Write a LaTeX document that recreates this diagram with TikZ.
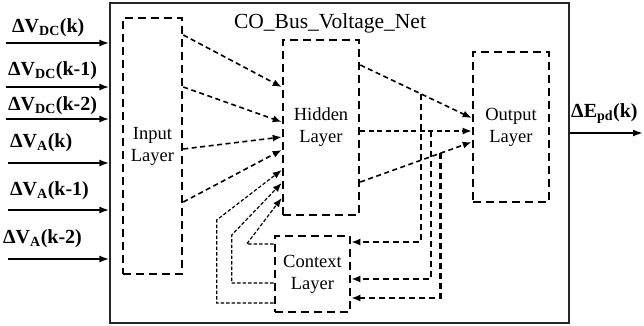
\documentclass[tikz,border=0pt]{standalone}
\usepackage{fontspec}
\setmainfont{Liberation Serif}
\usetikzlibrary{arrows.meta}
\tikzset{
  cnnet/.style={draw=black!85, line width=1.1pt},
  cnlayer/.style={draw, line width=2.6pt, dash pattern=on 8pt off 5pt, align=center, inner sep=0pt, font=\fontsize{18.5}{22}\selectfont},
  cnlbl/.style={anchor=base west, inner sep=0pt, font=\fontsize{20}{24}\selectfont\bfseries},
  cnin/.style={-{Latex[length=10pt,width=7pt]}, line width=2pt},
  cnarr/.style={-{Latex[length=9pt,width=7pt]}, line width=1.6pt, dash pattern=on 5pt off 3.5pt},
  cnfeed/.style={-{Latex[length=9pt,width=7pt]}, line width=1.2pt, dash pattern=on 3.5pt off 2pt},
  cnback/.style={-{Latex[length=9pt,width=7pt]}, line width=2.4pt, dash pattern=on 6pt off 4pt}
}
\begin{document}
\begin{tikzpicture}[x=1pt, y=-1pt]
  \useasboundingbox (0,0) rectangle (644,325);
  % network frame
  \node[cnnet, minimum width=459, minimum height=320] (net) at (339.5,163) {};
  \node[anchor=base, inner sep=0pt, font=\fontsize{21.5}{24}\selectfont] (title) at (330,28) {CO\_Bus\_Voltage\_Net};
  % layers
  \node[cnlayer, minimum width=59, minimum height=256] (input) at (152.5,146) {Input\\Layer};
  \node[cnlayer, minimum width=76, minimum height=175] (hidden) at (321,127.5) {Hidden\\Layer};
  \node[cnlayer, minimum width=76, minimum height=150] (output) at (511,127) {Output\\Layer};
  \node[cnlayer, minimum width=75, minimum height=76] (context) at (312.5,274) {Context\\Layer};
  % inputs
  \coordinate (s1) at (6,43);
  \coordinate (s2) at (6,87);
  \coordinate (s3) at (6,119);
  \coordinate (s4) at (8,163);
  \coordinate (s5) at (8,210);
  \coordinate (s6) at (8,259);
  \node[cnlbl] (lbl1) at (12,32) {ΔV\textsubscript{DC}(k)};
  \node[cnlbl] (lbl2) at (8,75) {ΔV\textsubscript{DC}(k-1)};
  \node[cnlbl] (lbl3) at (8,110) {ΔV\textsubscript{DC}(k-2)};
  \node[cnlbl] (lbl4) at (10,147) {ΔV\textsubscript{A}(k)};
  \node[cnlbl] (lbl5) at (10,195) {ΔV\textsubscript{A}(k-1)};
  \node[cnlbl] (lbl6) at (3,243) {ΔV\textsubscript{A}(k-2)};
  \draw[cnin] (s1) -- (s1 -| net.west);
  \draw[cnin] (s2) -- (s2 -| net.west);
  \draw[cnin] (s3) -- (s3 -| net.west);
  \draw[cnin] (s4) -- (s4 -| net.west);
  \draw[cnin] (s5) -- (s5 -| net.west);
  \draw[cnin] (s6) -- (s6 -| net.west);
  % output
  \coordinate (e1) at (643,133);
  \node[cnlbl] (lblout) at (571,117) {ΔE\textsubscript{pd}(k)};
  \draw[cnin] (net.east |- e1) -- (e1);
  % input -> hidden
  \draw[cnarr] (input.east |- 0,35) -- (hidden.west |- 0,87);
  \draw[cnarr] (input.east |- 0,87) -- (hidden.west |- 0,122);
  \draw[cnarr] (input.east |- 0,149) -- (hidden.west |- 0,137);
  \draw[cnarr] (input.east |- 0,202) -- (hidden.west |- 0,150);
  % context -> hidden
  \draw[cnfeed] (context.west |- 0,303) -- ++(-57,0) -- ++(0,-83) -- (hidden.west |- 0,170);
  \draw[cnfeed] (context.west |- 0,283) -- ++(-42,0) -- ++(0,-48) -- (hidden.west |- 0,183);
  \draw[cnfeed] (context.west |- 0,244) -- ++(-27,0) -- (hidden.west |- 0,198);
  % hidden -> output
  \draw[cnarr] (hidden.east |- 0,65) -- coordinate[pos=.544] (t1) (output.west |- 0,118);
  \draw[cnarr] (hidden.east |- 0,131) -- coordinate[pos=.632] (t2) (output.west |- 0,131);
  \draw[cnarr] (hidden.east |- 0,182) -- coordinate[pos=.719] (t3) (output.west |- 0,142);
  % hidden -> context
  \draw[cnback] (t1) |- (context.east |- 0,242);
  \draw[cnback] (t2) |- (context.east |- 0,279);
  \draw[cnback] (t3) |- (context.east |- 0,298);
\end{tikzpicture}
\end{document}
